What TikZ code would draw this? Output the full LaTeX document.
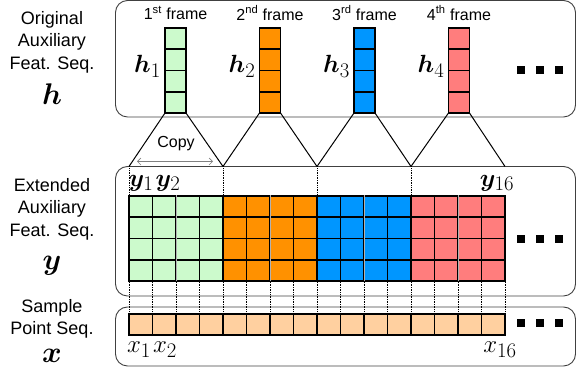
\documentclass[tikz,border=0pt]{standalone}
\usepackage{amsmath,bm,graphicx}
\usepackage{fontspec}
\setmainfont{Liberation Sans}
\usetikzlibrary{arrows.meta}
\definecolor{cg}{RGB}{204,250,204}
\definecolor{co}{RGB}{255,145,0}
\definecolor{cb}{RGB}{0,150,255}
\definecolor{cr}{RGB}{255,125,125}
\definecolor{cp}{RGB}{255,208,160}
\begin{document}
\begin{tikzpicture}[x=1pt,y=1pt,
  roundbox/.style={draw=black!75, line width=0.9pt, rounded corners=12pt},
  cell/.style={draw=black, line width=1.7pt},
  tri/.style={draw=black, line width=1pt},
  dotv/.style={draw=black, densely dotted, line width=0.7pt},
  side/.style={align=center, font=\fontsize{18}{22.5}\selectfont, inner sep=0pt},
  big/.style={font=\Huge, inner sep=0pt},
  mlab/.style={font=\Huge, inner sep=0pt},
  frm/.style={font=\fontsize{16}{18}\selectfont, inner sep=0pt},
  dotsq/.style={fill=black}]
\useasboundingbox (0,0) rectangle (576,371);
% boxes
\draw[roundbox] (115.5,254) rectangle (575.5,370.5);
\draw[roundbox] (115.5,75) rectangle (575.5,204.5);
\draw[roundbox] (115.5,5) rectangle (575.5,64);
% side labels
\node[side] (lh) at (52,329) {Original\\Auxiliary\\Feat. Seq.};
\node[big] (bh) at (52,277) {\scalebox{1.2}{$\bm{h}$}};
\node[side] (ly) at (52,162) {Extended\\Auxiliary\\Feat. Seq.};
\node[big] (by) at (52,105) {\scalebox{1.2}{$\bm{y}$}};
\node[side] (lx) at (52,52) {Sample\\Point Seq.};
\node[big] (bx) at (52,15) {\scalebox{1.2}{$\bm{x}$}};
% h columns
\foreach \i/\x/\c/\s in {1/165/cg/st,2/259.5/co/nd,3/354/cb/rd,4/448.5/cr/th} {
  \node[cell, fill=\c, minimum width=21pt, minimum height=85pt, inner sep=0pt, outer sep=0pt, anchor=south west] (h\i) at (\x,258) {};
  \foreach \k in {1,2,3} \draw[cell] (\x,258+21.25*\k) -- ++(21,0);
  \node[mlab, anchor=base east] (hl\i) at (\x-4,298) {$\bm{h}_{\i}$};
  \node[frm] (f\i) at ([yshift=15pt]h\i.north) {\i\textsuperscript{\s} frame};
}
% middle grid
\foreach \g/\c in {0/cg,1/co,2/cb,3/cr}
  \foreach \j in {0,...,3}
    \foreach \r in {0,...,3}
      \draw[cell, fill=\c] ({129+94*\g+23.5*\j},{90+21.25*\r}) rectangle ++(23.5,21.25);
\foreach \k in {1,3,5,7}
  \draw[gray!60, line width=0.5pt] ({129+47*\k},89.5) -- ({129+47*\k},175.5);
% bottom row
\foreach \j in {0,...,15}
  \draw[cell, fill=cp] ({129+23.5*\j},36) rectangle ++(23.5,21);
% dotted links between grid and bottom row
\foreach \j in {0,...,16}
  \draw[dotv] ({129+23.5*\j},89) -- ({129+23.5*\j},58);
% triangle tops on middle box
\foreach \k in {0,...,4} \coordinate (t\k) at ({129+94*\k},204.5);
\foreach \k in {0,...,3} \draw[dotv] (t\k) -- ++(0,-29);
\draw[tri] (h1.south west) -- (t0);
\draw[tri] (h1.south east) -- (t1);
\draw[tri] (h2.south west) -- (t1);
\draw[tri] (h2.south east) -- (t2);
\draw[tri] (h3.south west) -- (t2);
\draw[tri] (h3.south east) -- (t3);
\draw[tri] (h4.south west) -- (t3);
\draw[tri] (h4.south east) -- (t4);
% copy
\node[font=\fontsize{16}{18}\selectfont] (copy) at (176,227) {Copy};
\coordinate (ca) at (137,209.5);
\coordinate (cb) at (213,209.5);
\draw[gray, line width=0.6pt, {Straight Barb[length=3.5pt]}-{Straight Barb[length=3.5pt]}] (ca) -- (cb);
% y and x labels
\node[mlab] (y1) at (141,188) {$\bm{y}_1$};
\node[mlab] (y2) at (168,188) {$\bm{y}_2$};
\node[mlab] (y16) at (497,188) {$\bm{y}_{16}$};
\node[mlab] (x1) at (139,21) {$x_1$};
\node[mlab] (x2) at (165,21) {$x_2$};
\node[mlab] (x16) at (500,21) {$x_{16}$};
% dots
\foreach \yy in {301,132,48}
  \foreach \xx in {521,540,559}
    \fill[dotsq] (\xx-3.75,\yy-3.75) rectangle ++(7.5,7.5);
\end{tikzpicture}
\end{document}
